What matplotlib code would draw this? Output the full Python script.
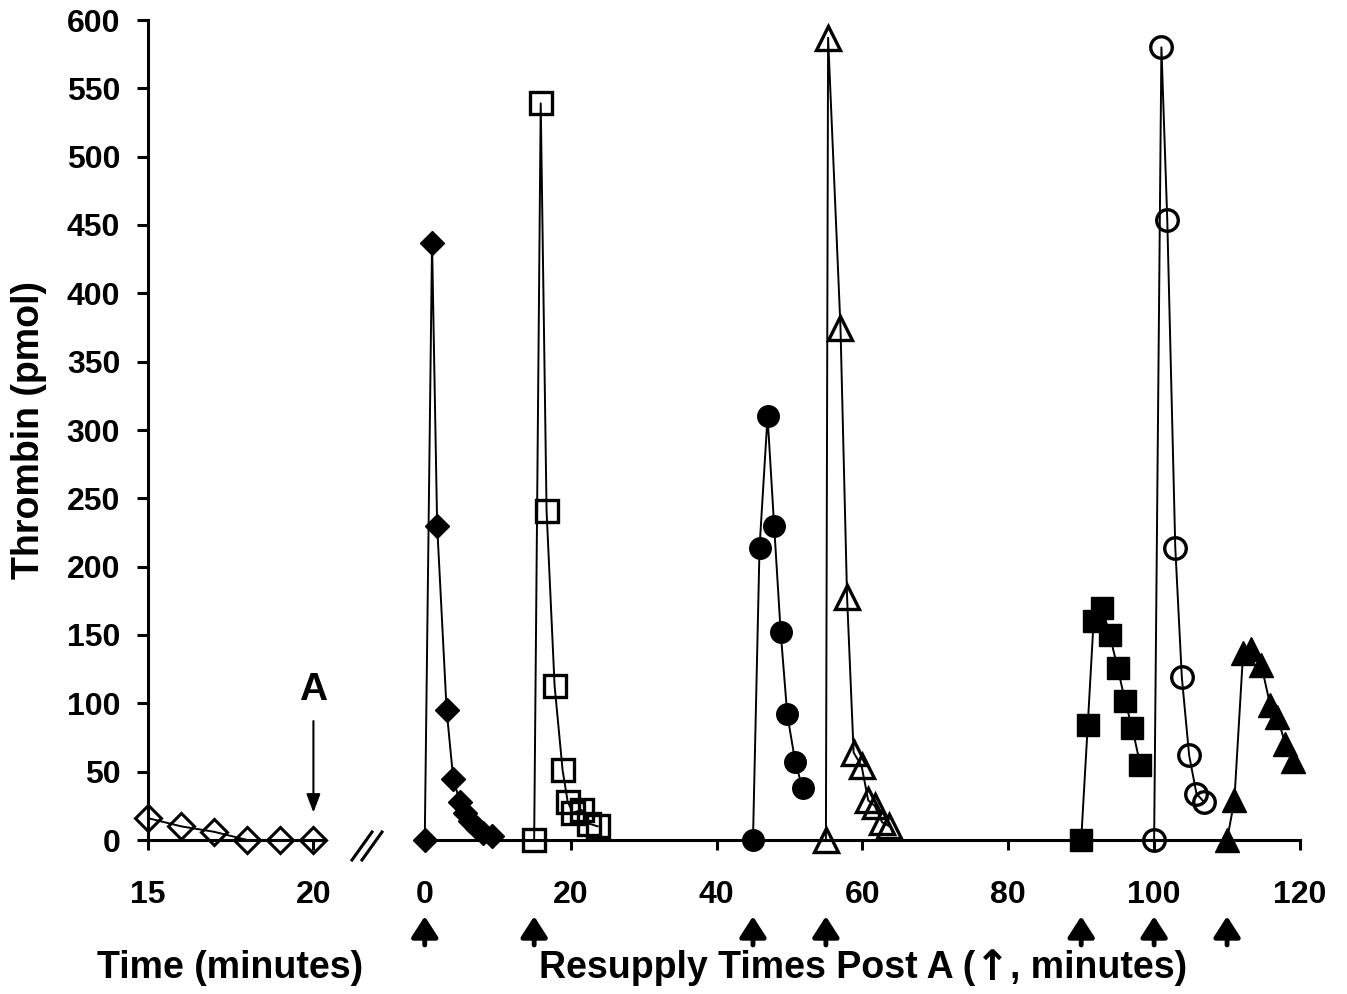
import matplotlib
matplotlib.use("Agg")
import matplotlib.pyplot as plt
from matplotlib.lines import Line2D

plt.rcParams['font.family'] = ['Liberation Sans', 'DejaVu Sans']
plt.rcParams['font.weight'] = 'bold'

# ---------------- data ----------------
pre_time = [15, 16, 17, 18, 19, 20]
pre_thrombin = [16, 10, 6, 0, 0, 0]

s1_time = [0, 1, 1.7, 3, 3.9, 4.8, 5.5, 6.2, 7.1, 8, 9.2]
s1_thrombin = [0, 437, 230, 95, 45, 28, 20, 14, 9, 5, 3]

s2_time = [15, 15.9, 16.7, 17.8, 18.9, 19.6, 20.3, 21.5, 22.5, 23.7]
s2_thrombin = [0, 539, 241, 113, 51, 28, 20, 22, 12, 10]

s3_time = [45, 45.9, 47, 47.9, 48.8, 49.7, 50.8, 51.8]
s3_thrombin = [0, 214, 310, 230, 152, 92, 57, 38]

s4_time = [55, 55.3, 57, 57.9, 58.8, 59.9, 60.8, 61.7, 62.7, 63.7]
s4_thrombin = [0, 587, 375, 178, 64, 54, 29, 25, 13, 10]

s5_time = [90, 90.9, 91.7, 92.9, 93.9, 95, 96, 97, 98.1]
s5_thrombin = [0, 84, 160, 170, 150, 126, 102, 82, 55]

s6_time = [100, 101, 101.8, 102.9, 103.8, 104.8, 105.8, 106.8]
s6_thrombin = [0, 580, 454, 214, 119, 62, 34, 28]

s7_time = [110, 111, 112.2, 113.3, 114.7, 115.9, 116.9, 118, 119.1]
s7_thrombin = [0, 29, 137, 140, 128, 99, 90, 70, 58]

resupply_times = [0, 15, 45, 55, 90, 100, 110]

left_xticks = [15, 20]
right_xticks = [0, 20, 40, 60, 80, 100, 120]
yticks = list(range(0, 601, 50))

# ---------------- figure ----------------
W, H = 1347, 994
fig = plt.figure(figsize=(W / 100, H / 100), dpi=100)
fig.patch.set_facecolor('white')

axL = fig.add_axes([148 / W, 1 - 840 / H, 177 / W, 820 / H])
axR = fig.add_axes([416 / W, 1 - 840 / H, 884 / W, 820 / H])

for ax in (axL, axR):
    ax.set_ylim(0, 600)
    ax.patch.set_alpha(0)
    for sp in ('top', 'right'):
        ax.spines[sp].set_visible(False)
    ax.spines['bottom'].set_linewidth(2.2)
    ax.spines['left'].set_linewidth(2.2)

lw = 1.4
# left panel
axL.plot(pre_time, pre_thrombin, color='black', lw=lw, marker='D', ms=13,
         mfc='none', mec='black', mew=2.2, clip_on=False, zorder=5)
axL.set_xlim(15, 20.35)
axL.set_xticks(left_xticks)
axL.set_xticklabels([str(t) for t in left_xticks])
axL.set_yticks(yticks)
axL.tick_params(axis='y', direction='out', length=8, width=2.2, pad=12, labelsize=23)
axL.tick_params(axis='x', direction='out', length=7, width=2.2, pad=22, labelsize=23)
axL.set_ylabel('Thrombin (pmol)', fontsize=27, fontweight='bold', labelpad=14)

# annotation "A"
axL.text(20, 110, 'A', ha='center', va='center', fontsize=28, fontweight='bold')
axL.annotate('', xy=(20, 20), xytext=(20, 87),
             arrowprops=dict(arrowstyle='-|>,head_width=0.3,head_length=0.8',
                             lw=1.5, color='black', mutation_scale=14,
                             shrinkA=0, shrinkB=0))

# right panel
common = dict(color='black', lw=lw, clip_on=False, zorder=5, mec='black')
axR.plot(s1_time, s1_thrombin, marker='D', ms=12, mfc='black', **common)
axR.plot(s2_time, s2_thrombin, marker='s', ms=16.5, mfc='none', mew=2.4, **common)
axR.plot(s3_time, s3_thrombin, marker='o', ms=15.5, mfc='black', **common)
axR.plot(s4_time, s4_thrombin, marker='^', ms=17, mfc='none', mew=2.4, **common)
axR.plot(s5_time, s5_thrombin, marker='s', ms=15.5, mfc='black', **common)
axR.plot(s6_time, s6_thrombin, marker='o', ms=15.5, mfc='none', mew=2.4, **common)
axR.plot(s7_time, s7_thrombin, marker='^', ms=17, mfc='black', **common)

axR.set_xlim(-1.2, 120)
axR.set_xticks(right_xticks)
axR.set_xticklabels([str(t) for t in right_xticks])
axR.spines['left'].set_visible(False)
axR.set_yticks([])
axR.tick_params(axis='x', direction='out', length=7, width=2.2, pad=22, labelsize=23)

# resupply arrows under the axis
for t in resupply_times:
    axR.annotate('', xy=(t, -0.093), xytext=(t, -0.128),
                 xycoords=axR.get_xaxis_transform(),
                 textcoords=axR.get_xaxis_transform(),
                 arrowprops=dict(arrowstyle='-|>,head_width=0.45,head_length=0.7',
                                 lw=3.5, color='black', mutation_scale=18,
                                 shrinkA=0, shrinkB=0),
                 annotation_clip=False)

# axis titles
fig.text(230 / W, 1 - 968 / H, 'Time (minutes)', ha='center', va='center',
         fontsize=27, fontweight='bold')

# "Resupply Times Post A (↑, minutes)" composed of three real text pieces
ty = 1 - 968 / H
p1 = fig.text(0, ty, 'Resupply Times Post A (', ha='left', va='center',
              fontsize=27, fontweight='bold')
p2 = fig.text(0, ty, '\u2191', ha='left', va='center', fontsize=30,
              fontweight='bold', family=['DejaVu Sans'])
p3 = fig.text(0, ty, ', minutes)', ha='left', va='center',
              fontsize=27, fontweight='bold')
r = fig.canvas.get_renderer()
w1 = p1.get_window_extent(r).width
w2 = p2.get_window_extent(r).width
w3 = p3.get_window_extent(r).width
total = w1 + w2 + w3
x0 = 863 - total / 2
p1.set_x(x0 / W)
p2.set_x((x0 + w1) / W)
p3.set_x((x0 + w1 + w2) / W)

# axis break marks
for xb in (352, 362):
    fig.add_artist(Line2D([xb / W, (xb + 20) / W], [1 - 860 / H, 1 - 832 / H],
                          color='black', lw=2.2))

fig.savefig('out.png', dpi=100, facecolor='white')
